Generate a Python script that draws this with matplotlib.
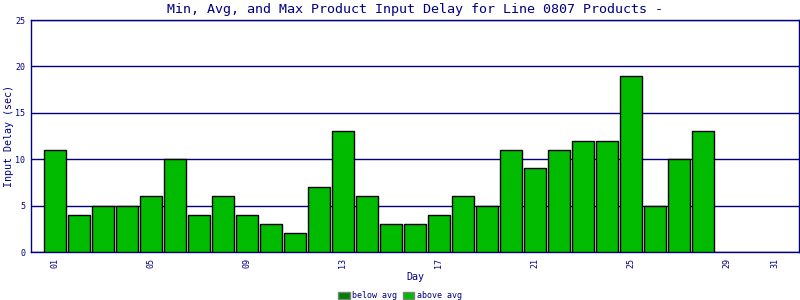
import matplotlib
matplotlib.use("Agg")
import matplotlib.pyplot as plt
from matplotlib.patches import Patch

# data
days = list(range(1, 29))
delay = [11, 4, 5, 5, 6, 10, 4, 6, 4, 3, 2, 7, 13, 6, 3, 3, 4, 6, 5, 11,
         9, 11, 12, 12, 19, 5, 10, 13]
tick_days = [1, 5, 9, 13, 17, 21, 25, 29, 31]
tick_labels = ["01", "05", "09", "13", "17", "21", "25", "29", "31"]
y_ticks = [0, 5, 10, 15, 20, 25]

NAVY = "#000080"
BAR = "#00bb00"
BELOW = "#008000"
FONT = "DejaVu Sans Mono"

plt.rcParams["font.family"] = FONT

fig = plt.figure(figsize=(8, 3), dpi=100)
ax = fig.add_axes([0.03875, 0.16, 0.96, 0.7733])

ax.bar(days, delay, width=0.92, color=BAR, edgecolor="black", linewidth=1, zorder=3)

ax.set_xlim(0, 32)
ax.set_ylim(0, 25)
ax.set_yticks(y_ticks)
ax.set_xticks(tick_days)
ax.set_xticklabels(tick_labels, rotation=90)
ax.tick_params(axis="both", colors=NAVY, labelsize=6, length=0, pad=4)
ax.grid(axis="y", color=NAVY, linewidth=1, zorder=0)
for s in ax.spines.values():
    s.set_color(NAVY)
    s.set_linewidth(1)

ax.set_title("Min, Avg, and Max Product Input Delay for Line 0807 Products -",
             color=NAVY, fontsize=9.6, pad=5)
ax.set_ylabel("Input Delay (sec)", color=NAVY, fontsize=7.2, labelpad=1)
ax.set_xlabel("Day", color=NAVY, fontsize=7.2, labelpad=3)

handles = [Patch(facecolor=BELOW, edgecolor="gray", label="below avg"),
           Patch(facecolor=BAR, edgecolor="gray", label="above avg")]
leg = fig.legend(handles=handles, loc="lower center", bbox_to_anchor=(0.5, -0.025),
                 ncol=2, frameon=False, fontsize=6, handlelength=1.4,
                 handleheight=0.9, handletextpad=0.3, columnspacing=0.6)
for t in leg.get_texts():
    t.set_color(NAVY)

fig.savefig("out.png", dpi=100)
